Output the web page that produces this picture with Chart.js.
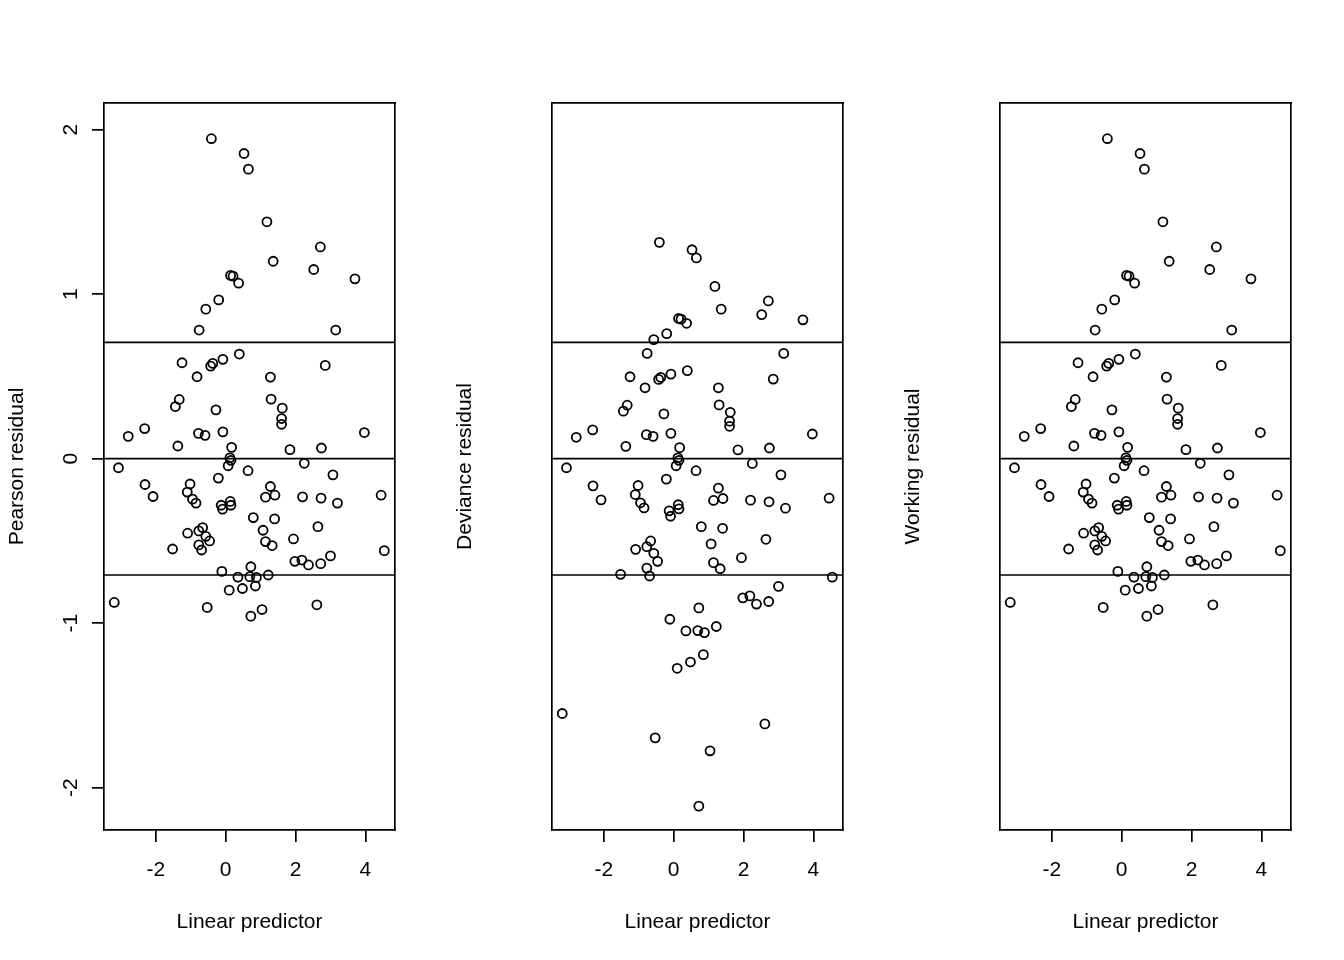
<!DOCTYPE html>
<html>
<head>
<meta charset="utf-8">
<script src="https://cdn.jsdelivr.net/npm/chart.js@4.4.0/dist/chart.umd.min.js"></script>
<style>
  body { margin: 0; background: #fff; }
  #wrap { display: flex; width: 1344px; height: 960px; }
  canvas { display: block; }
</style>
</head>
<body>
<div id="wrap">
  <canvas id="c1" width="448" height="960"></canvas>
  <canvas id="c2" width="448" height="960"></canvas>
  <canvas id="c3" width="448" height="960"></canvas>
</div>
<script>
// linear predictor (x, shared by all three panels)
const linPred = [
  -0.41, 0.525, 0.65, 1.18, 2.71, 1.36, 2.52, 3.70, 0.14, 0.21,
  0.37, -0.20, -0.57, -0.76, 3.15, -1.25, -0.37, -0.43, -0.08, 0.39,
  2.85, -0.82, 1.28, -1.33, -1.44, -0.28, 1.30, 1.62, 1.60, 1.60,
  -2.32, -2.79, -0.78, -0.59, -0.08, 3.97, -1.37, 0.17, 1.84, 2.74,
  0.12, 0.15, 0.07, -3.07, 0.64, 2.25, 3.07, -2.31, -2.08, -1.02,
  -1.10, -0.95, -0.85, -0.21, -0.13, -0.09, 0.13, 0.15, 1.28, 1.14,
  1.41, 2.20, 2.73, 3.20, 4.45, 0.79, 1.40, 2.64, 1.07, 1.14,
  1.33, 1.94, -1.09, -0.77, -0.66, -0.57, -0.46, -0.77, -0.69, -1.52,
  4.54, 1.98, 2.18, 2.37, 2.72, 3.00, -0.11, 0.72, 0.35, 0.69,
  0.88, 1.22, 0.85, 0.48, 0.10, -3.19, -0.53, 1.04, 2.61, 0.72
];
const pearsonRes = [
  1.945, 1.855, 1.76, 1.44, 1.287, 1.20, 1.15, 1.093, 1.114, 1.11,
  1.067, 0.965, 0.909, 0.782, 0.782, 0.583, 0.579, 0.563, 0.604, 0.636,
  0.567, 0.498, 0.496, 0.36, 0.317, 0.297, 0.362, 0.307, 0.244, 0.209,
  0.183, 0.136, 0.154, 0.142, 0.163, 0.159, 0.077, 0.069, 0.055, 0.065,
  0.005, -0.01, -0.043, -0.055, -0.073, -0.028, -0.098, -0.157, -0.23, -0.154,
  -0.203, -0.246, -0.27, -0.118, -0.283, -0.307, -0.26, -0.283, -0.169, -0.234,
  -0.222, -0.232, -0.24, -0.27, -0.222, -0.358, -0.366, -0.413, -0.435, -0.504,
  -0.528, -0.488, -0.453, -0.439, -0.419, -0.472, -0.5, -0.524, -0.555, -0.549,
  -0.559, -0.624, -0.616, -0.646, -0.638, -0.591, -0.685, -0.657, -0.72, -0.717,
  -0.722, -0.707, -0.774, -0.789, -0.799, -0.874, -0.904, -0.917, -0.888, -0.957
];
const devianceRes = [
  1.315, 1.27, 1.22, 1.047, 0.959, 0.909, 0.876, 0.844, 0.852, 0.848,
  0.823, 0.760, 0.724, 0.640, 0.640, 0.498, 0.494, 0.482, 0.514, 0.535,
  0.484, 0.431, 0.431, 0.325, 0.289, 0.272, 0.327, 0.282, 0.228, 0.197,
  0.175, 0.130, 0.146, 0.136, 0.154, 0.150, 0.075, 0.067, 0.053, 0.065,
  0.005, -0.01, -0.043, -0.055, -0.073, -0.029, -0.098, -0.165, -0.25, -0.163,
  -0.218, -0.268, -0.299, -0.124, -0.317, -0.35, -0.28, -0.305, -0.179, -0.254,
  -0.242, -0.252, -0.262, -0.301, -0.24, -0.413, -0.423, -0.49, -0.518, -0.632,
  -0.669, -0.602, -0.551, -0.535, -0.5, -0.575, -0.624, -0.665, -0.713, -0.703,
  -0.72, -0.846, -0.834, -0.884, -0.868, -0.776, -0.976, -0.907, -1.047, -1.045,
  -1.057, -1.02, -1.191, -1.236, -1.274, -1.549, -1.697, -1.776, -1.612, -2.112
];
const workingRes = [
  1.945, 1.855, 1.76, 1.44, 1.287, 1.20, 1.15, 1.093, 1.114, 1.11,
  1.067, 0.965, 0.909, 0.782, 0.782, 0.583, 0.579, 0.563, 0.604, 0.636,
  0.567, 0.498, 0.496, 0.36, 0.317, 0.297, 0.362, 0.307, 0.244, 0.209,
  0.183, 0.136, 0.154, 0.142, 0.163, 0.159, 0.077, 0.069, 0.055, 0.065,
  0.005, -0.01, -0.043, -0.055, -0.073, -0.028, -0.098, -0.157, -0.23, -0.154,
  -0.203, -0.246, -0.27, -0.118, -0.283, -0.307, -0.26, -0.283, -0.169, -0.234,
  -0.222, -0.232, -0.24, -0.27, -0.222, -0.358, -0.366, -0.413, -0.435, -0.504,
  -0.528, -0.488, -0.453, -0.439, -0.419, -0.472, -0.5, -0.524, -0.555, -0.549,
  -0.559, -0.624, -0.616, -0.646, -0.638, -0.591, -0.685, -0.657, -0.72, -0.717,
  -0.722, -0.707, -0.774, -0.789, -0.799, -0.874, -0.904, -0.917, -0.888, -0.957
];

const xTicks = [-2, 0, 2, 4];
const yTicks = [-2, -1, 0, 1, 2];
const refLevels = [0.707, 0, -0.707];
const yTitles = ['Pearson residual', 'Deviance residual', 'Working residual'];
const xTitle = 'Linear predictor';

const xMin = -3.484, xMax = 4.847;
const yMin = -2.257, yMax = 2.162;

Chart.defaults.font.family = "'Liberation Sans', Arial, sans-serif";
Chart.defaults.font.size = 21;
Chart.defaults.color = '#000';

// only the first panel gets y ticks, like the original
function makePanel(id, res, yTitle, showYTicks) {
  const pts = linPred.map((x, i) => ({ x: x, y: res[i] }));
  const datasets = [{
    type: 'scatter',
    data: pts,
    pointStyle: 'circle',
    pointRadius: 4.5,
    borderColor: '#000',
    backgroundColor: 'rgba(0,0,0,0)',
    borderWidth: 1.8
  }];
  refLevels.forEach(function(h){
    datasets.push({
      type: 'line',
      data: [{ x: xMin, y: h }, { x: xMax, y: h }],
      borderColor: '#000',
      borderWidth: 1.7,
      pointRadius: 0,
      fill: false
    });
  });

  new Chart(document.getElementById(id), {
    type: 'scatter',
    data: { datasets: datasets },
    options: {
      responsive: false,
      animation: false,
      layout: { padding: 0 },
      plugins: { legend: { display: false }, tooltip: { enabled: false } },
      scales: {
        x: {
          type: 'linear', position: 'bottom', min: xMin, max: xMax,
          afterBuildTicks: s => { s.ticks = xTicks.map(v => ({ value: v })); },
          afterFit: s => { s.height = 130; },
          grid: { drawOnChartArea: false, drawTicks: true, tickLength: 12, color: '#000', lineWidth: 1.7 },
          border: { display: true, color: '#000', width: 1.7 },
          ticks: { padding: 16, maxRotation: 0, color: '#000' },
          title: { display: true, text: xTitle, color: '#000', padding: { top: 0, bottom: 25 } }
        },
        x2: {
          type: 'linear', axis: 'x', position: 'top', min: xMin, max: xMax,
          afterFit: s => { s.height = 103; },
          grid: { display: false },
          border: { display: true, color: '#000', width: 1.7 },
          ticks: { display: false }
        },
        y: {
          type: 'linear', position: 'left', min: yMin, max: yMax,
          afterBuildTicks: s => { s.ticks = yTicks.map(v => ({ value: v })); },
          afterFit: s => { s.width = 104; },
          grid: { display: showYTicks, drawOnChartArea: false, drawTicks: showYTicks, tickLength: 12, color: '#000', lineWidth: 1.7 },
          border: { display: true, color: '#000', width: 1.7 },
          ticks: { display: showYTicks, minRotation: 90, maxRotation: 90, crossAlign: 'center', padding: 11, color: '#000' },
          title: { display: true, text: yTitle, color: '#000', padding: { top: 5, bottom: 0 } }
        },
        y2: {
          type: 'linear', axis: 'y', position: 'right', min: yMin, max: yMax,
          afterFit: s => { s.width = 53; },
          grid: { display: false },
          border: { display: true, color: '#000', width: 1.7 },
          ticks: { display: false }
        }
      }
    }
  });
}

makePanel('c1', pearsonRes, yTitles[0], true);
makePanel('c2', devianceRes, yTitles[1], false);
makePanel('c3', workingRes, yTitles[2], false);
</script>
</body>
</html>
